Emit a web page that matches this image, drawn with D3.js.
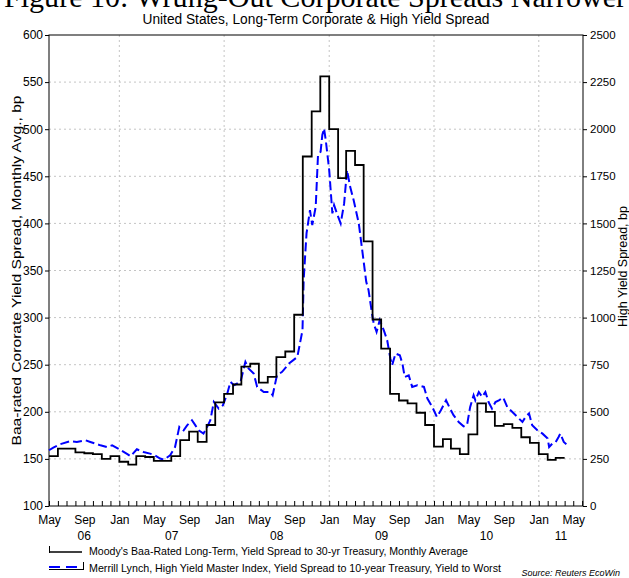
<!DOCTYPE html>
<html>
<head>
<meta charset="utf-8">
<script src="https://cdn.jsdelivr.net/npm/d3@7"></script>
<style>
  body { margin: 0; background: #fff; }
  svg { display: block; font-family: "Liberation Sans", Arial, sans-serif; }
</style>
</head>
<body>
<div id="chart"></div>
<script>
// Moody's Baa monthly average spread, bp (May 2006 .. Mar 2011)
const baaStart = "2006-05"
const baaValues = [
  153, 161, 161, 157, 156, 155, 150, 153,
  147, 144, 153, 152, 148, 148, 153, 170, 179, 168, 186, 210,
  219, 229, 248, 251, 231, 237, 258, 264, 303, 471, 519, 556,
  500, 448, 477, 462, 381, 298, 267, 219, 212, 209, 199, 186,
  163, 171, 161, 155, 176, 209, 200, 185, 187, 183, 173, 167,
  155, 149, 151
]

// Merrill Lynch high yield master index spread, bp
const hyDates = [
  "2006-05-01", "2006-05-16", "2006-06-09", "2006-07-14", "2006-08-06", "2006-09-05", "2006-09-22",
  "2006-10-27", "2006-11-19", "2006-12-07", "2006-12-30", "2007-01-29", "2007-02-09", "2007-03-03",
  "2007-03-26", "2007-04-18", "2007-05-05", "2007-05-23", "2007-06-06", "2007-06-27", "2007-07-14",
  "2007-07-29", "2007-08-13", "2007-08-25", "2007-09-11", "2007-09-23", "2007-10-04", "2007-10-21",
  "2007-11-03", "2007-11-14", "2007-11-26", "2007-12-13", "2007-12-28", "2008-01-12", "2008-01-23",
  "2008-02-04", "2008-02-27", "2008-03-15", "2008-03-26", "2008-04-13", "2008-04-25", "2008-05-18",
  "2008-06-10", "2008-06-18", "2008-07-03", "2008-07-21", "2008-08-14", "2008-09-12", "2008-09-30",
  "2008-10-04", "2008-10-14", "2008-10-26", "2008-11-03", "2008-11-15", "2008-11-23", "2008-12-02",
  "2008-12-08", "2008-12-14", "2008-12-20", "2009-01-01", "2009-01-12", "2009-01-18", "2009-01-30",
  "2009-02-10", "2009-02-22", "2009-03-04", "2009-03-15", "2009-03-27", "2009-04-14", "2009-04-26",
  "2009-05-10", "2009-05-18", "2009-05-30", "2009-06-05", "2009-06-15", "2009-06-26", "2009-07-10",
  "2009-07-22", "2009-08-02", "2009-08-08", "2009-08-20", "2009-09-04", "2009-09-13", "2009-09-21",
  "2009-10-05", "2009-10-17", "2009-11-04", "2009-11-27", "2009-12-09", "2009-12-26", "2010-01-11",
  "2010-01-25", "2010-02-12", "2010-02-23", "2010-03-10", "2010-03-28", "2010-04-14", "2010-04-26",
  "2010-05-07", "2010-05-19", "2010-05-25", "2010-06-06", "2010-06-18", "2010-06-29", "2010-07-10",
  "2010-07-22", "2010-08-03", "2010-08-15", "2010-08-30", "2010-09-13", "2010-10-01", "2010-10-18",
  "2010-11-05", "2010-11-16", "2010-11-28", "2010-12-09", "2010-12-27", "2011-01-14", "2011-02-01",
  "2011-02-06", "2011-02-17", "2011-03-01", "2011-03-11", "2011-03-17", "2011-03-29", "2011-04-07"
]
const hyValues = [
  296, 310, 328, 344, 340, 349, 340,
  322, 313, 322, 303, 275, 264, 301,
  287, 278, 269, 252, 246, 269, 313,
  420, 402, 428, 455, 428, 402, 384,
  420, 455, 552, 517, 535, 597, 659,
  641, 659, 765, 730, 703, 632, 605,
  605, 588, 694, 712, 756, 791, 933,
  1200, 1447, 1570, 1491, 1588, 1863, 1880,
  1969, 2004, 1942, 1783, 1553, 1597, 1544,
  1500, 1606, 1783, 1694, 1624, 1500, 1358,
  1190, 1146, 1022, 969, 924, 986, 933,
  880, 783, 747, 809, 800, 756, 685,
  694, 632, 641, 632, 570, 526, 473,
  508, 561, 526, 482, 446, 423, 429,
  526, 588, 561, 605, 579, 605, 552,
  517, 552, 561, 576, 526, 499, 473,
  446, 473, 491, 429, 402, 384, 358,
  313, 331, 340, 366, 384, 340, 328
]

const leftTicks = [100, 150, 200, 250, 300, 350, 400, 450, 500, 550, 600]
const rightTicks = [0, 250, 500, 750, 1000, 1250, 1500, 1750, 2000, 2250, 2500]
const yearLabels = ["06", "07", "08", "09", "10", "11"]

const legendLabels = [
  "Moody's Baa-Rated Long-Term, Yield Spread to 30-yr Treasury, Monthly Average",
  "Merrill Lynch, High Yield Master Index, Yield Spread to 10-year Treasury, Yield to Worst"
]

const width = 629
const height = 578
const margin = { top: 35, right: 46, bottom: 72, left: 49 }
const x0 = margin.left, x1 = width - margin.right
const y0 = margin.top, y1 = height - margin.bottom

const parseDay = d3.timeParse("%Y-%m-%d")
const parseMonth = d3.timeParse("%Y-%m")

const start = parseMonth(baaStart)
const baa = baaValues.map((v, i) => ({ date: d3.timeMonth.offset(start, i), value: v }))
// extend last step to end of its month
baa.push({ date: d3.timeMonth.offset(start, baaValues.length), value: baaValues[baaValues.length - 1] })
const hy = hyDates.map((d, i) => ({ date: parseDay(d), value: hyValues[i] }))

const xDomain = [new Date(2006, 4, 1), new Date(2011, 5, 4)]
const x = d3.scaleTime().domain(xDomain).range([x0, x1])
const yL = d3.scaleLinear().domain([100, 600]).range([y1, y0])
const yR = d3.scaleLinear().domain([0, 2500]).range([y1, y0])

const svg = d3.select("#chart")
  .append("svg")
  .attr("width", width)
  .attr("height", height)

// headline, cut off by the top edge as in the original
svg.append("text")
  .attr("x", 4)
  .attr("y", 7)
  .attr("textLength", 622)
  .attr("lengthAdjust", "spacingAndGlyphs")
  .style("font-family", "'Liberation Serif', 'Times New Roman', serif")
  .style("font-size", "30px")
  .text("Figure 10: Wrung-Out Corporate Spreads Narrower")

svg.append("text")
  .attr("x", 316)
  .attr("y", 24)
  .attr("text-anchor", "middle")
  .attr("textLength", 347)
  .attr("lengthAdjust", "spacingAndGlyphs")
  .style("font-size", "14px")
  .text("United States, Long-Term Corporate & High Yield Spread")

// grid
const grid = svg.append("g").attr("stroke", "#c4c4c4").attr("stroke-dasharray", "2,3")
grid.selectAll(".h")
  .data(leftTicks.slice(1, -1))
  .join("line")
  .attr("x1", x0).attr("x2", x1)
  .attr("y1", d => yL(d)).attr("y2", d => yL(d))
grid.selectAll(".v")
  .data(d3.timeYear.range(new Date(2007, 0, 1), xDomain[1]))
  .join("line")
  .attr("x1", d => x(d)).attr("x2", d => x(d))
  .attr("y1", y0).attr("y2", y1)

// axes
const leftAxis = svg.append("g")
  .attr("transform", `translate(${x0},0)`)
  .call(d3.axisLeft(yL).tickValues(leftTicks).tickSize(4).tickPadding(2))
const rightAxis = svg.append("g")
  .attr("transform", `translate(${x1},0)`)
  .call(d3.axisRight(yR).tickValues(rightTicks).tickFormat(d3.format("d")).tickSize(4).tickPadding(3))

const labelMonths = [0, 4, 8]
const bottomAxis = svg.append("g")
  .attr("transform", `translate(0,${y1})`)
  .call(d3.axisBottom(x)
    .tickValues(d3.timeMonth.range(xDomain[0], xDomain[1]))
    .tickSize(-5)
    .tickPadding(6)
    .tickFormat(d => labelMonths.includes(d.getMonth()) ? d3.timeFormat("%b")(d) : ""))

for (const ax of [leftAxis, rightAxis, bottomAxis]) {
  ax.select(".domain").remove()
  ax.selectAll("text").style("font-size", "12px").attr("fill", "#000")
}
rightAxis.selectAll("text").style("font-size", "11.5px")
bottomAxis.selectAll("text").attr("dy", "1em")

// year labels centred on the visible part of each year
const years = svg.append("g").attr("class", "years")
years.selectAll("text")
  .data(yearLabels)
  .join("text")
  .attr("x", (d, i) => {
    const a = d3.max([new Date(2006 + i, 0, 1), xDomain[0]])
    const b = d3.min([new Date(2007 + i, 0, 1), xDomain[1]])
    return (x(a) + x(b)) / 2
  })
  .attr("y", 540)
  .attr("text-anchor", "middle")
  .attr("fill", "#000")
  .style("font-size", "12px")
  .text(d => d)

// frame
svg.append("rect")
  .attr("x", x0).attr("y", y0)
  .attr("width", x1 - x0).attr("height", y1 - y0)
  .attr("fill", "none")
  .attr("stroke", "#000")

// axis titles
svg.append("text")
  .attr("transform", `translate(21,${(y0 + y1) / 2}) rotate(-90)`)
  .attr("text-anchor", "middle")
  .attr("textLength", 350)
  .attr("lengthAdjust", "spacingAndGlyphs")
  .style("font-size", "13px")
  .text("Baa-rated Cororate Yield Spread, Monthly Avg., bp")
svg.append("text")
  .attr("transform", `translate(627,${(y0 + y1) / 2 - 4}) rotate(-90)`)
  .attr("text-anchor", "middle")
  .style("font-size", "12.5px")
  .text("High Yield Spread, bp")

// series
svg.append("path")
  .datum(hy)
  .attr("fill", "none")
  .attr("stroke", "#0000ff")
  .attr("stroke-width", 2)
  .attr("stroke-dasharray", "9,4")
  .attr("d", d3.line().x(d => x(d.date)).y(d => yR(d.value)))

svg.append("path")
  .datum(baa)
  .attr("fill", "none")
  .attr("stroke", "#000")
  .attr("stroke-width", 1.8)
  .attr("d", d3.line().curve(d3.curveStepAfter).x(d => x(d.date)).y(d => yL(d.value)))

// legend
const lg = svg.append("g")
lg.append("line").attr("x1", 49.5).attr("x2", 49.5).attr("y1", 546).attr("y2", 553).attr("stroke", "#000")
lg.append("line").attr("x1", 49).attr("x2", 82).attr("y1", 552).attr("y2", 552).attr("stroke", "#000").attr("stroke-width", 1.5)
lg.append("line").attr("x1", 49).attr("x2", 83).attr("y1", 569.5).attr("y2", 569.5).attr("stroke", "#000")
lg.append("line").attr("x1", 83.5).attr("x2", 83.5).attr("y1", 562).attr("y2", 570).attr("stroke", "#000")
lg.append("line").attr("x1", 49).attr("x2", 82).attr("y1", 567).attr("y2", 567)
  .attr("stroke", "#0000ff").attr("stroke-width", 2).attr("stroke-dasharray", "11,6")
lg.selectAll("text")
  .data(legendLabels)
  .join("text")
  .attr("x", 89)
  .attr("y", (d, i) => 555 + i * 17)
  .attr("textLength", (d, i) => i === 0 ? 379 : 412)
  .attr("lengthAdjust", "spacingAndGlyphs")
  .style("font-size", "11.5px")
  .text(d => d)

svg.append("text")
  .attr("x", 620)
  .attr("y", 576)
  .attr("text-anchor", "end")
  .style("font-size", "9px")
  .style("font-style", "italic")
  .text("Source: Reuters EcoWin")
</script>
</body>
</html>
